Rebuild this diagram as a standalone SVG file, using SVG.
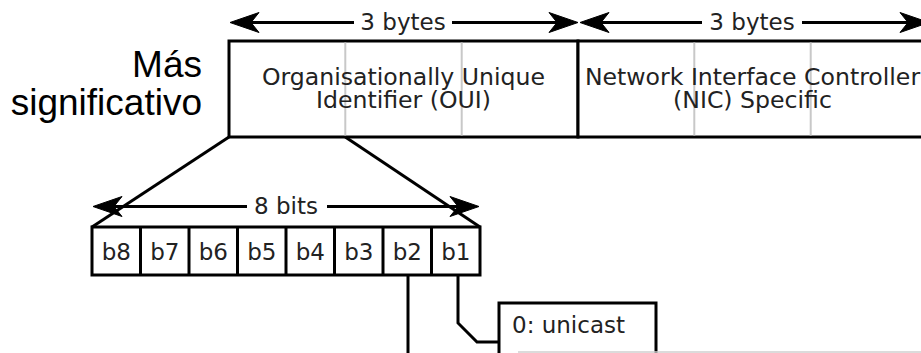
<svg xmlns="http://www.w3.org/2000/svg" width="921" height="353" viewBox="0 0 921 353">
  <defs>
    <style>
      .box { fill: #fff; stroke: #000; stroke-width: 3; }
      .edge { fill: none; stroke: #000; stroke-width: 3; }
      .sub { fill: none; stroke: #c8c8c8; stroke-width: 2; }
      .dim { fill: none; stroke: #000; stroke-width: 3; }
      .lbl { font-family: "DejaVu Sans", "Bitstream Vera Sans", sans-serif; font-size: 23px; fill: #222; text-anchor: middle; }
      .field { font-size: 23.6px; }
      .side { font-family: "Liberation Sans", Arial, sans-serif; font-size: 37px; fill: #000; text-anchor: end; }
    </style>
    <!-- notched arrowhead; refX sits on the notch so the shaft ends inside it -->
    <marker id="head" markerUnits="userSpaceOnUse" markerWidth="34" markerHeight="26"
            viewBox="-2 -13 34 26" refX="8" refY="0" orient="auto-start-reverse">
      <path d="M29,0 L0,-10 L8,0 L0,10 Z" fill="#000" stroke="#000" stroke-width="1" stroke-linejoin="round"/>
    </marker>
  </defs>

  <rect width="921" height="353" fill="#fff"/>

  <!-- side label -->
  <g id="significance">
    <text class="side" x="202" y="77">Más</text>
    <text class="side" x="202" y="115">significativo</text>
  </g>

  <!-- six-byte address -->
  <g id="oui">
    <rect class="box" x="229" y="41" width="349" height="96"/>
    <line class="sub" x1="345.3" y1="42.5" x2="345.3" y2="135.5"/>
    <line class="sub" x1="461.7" y1="42.5" x2="461.7" y2="135.5"/>
    <text class="lbl field" x="403.5" y="85">Organisationally Unique</text>
    <text class="lbl field" x="403.5" y="108">Identifier (OUI)</text>
  </g>
  <g id="nic">
    <rect class="box" x="578" y="41" width="349" height="96"/>
    <line class="sub" x1="694.3" y1="42.5" x2="694.3" y2="135.5"/>
    <line class="sub" x1="810.7" y1="42.5" x2="810.7" y2="135.5"/>
    <text class="lbl field" x="752.5" y="85">Network Interface Controller</text>
    <text class="lbl field" x="752.5" y="108">(NIC) Specific</text>
  </g>

  <!-- dimension arrows -->
  <g id="dimensions">
    <line class="dim" x1="251" y1="22.5" x2="354" y2="22.5" marker-start="url(#head)"/>
    <line class="dim" x1="452" y1="22.5" x2="557" y2="22.5" marker-end="url(#head)"/>
    <text class="lbl" x="403" y="30">3 bytes</text>
    <line class="dim" x1="601" y1="22.5" x2="702" y2="22.5" marker-start="url(#head)"/>
    <line class="dim" x1="802" y1="22.5" x2="908" y2="22.5" marker-end="url(#head)"/>
    <text class="lbl" x="752" y="30">3 bytes</text>
    <line class="dim" x1="114" y1="206.5" x2="247" y2="206.5" marker-start="url(#head)"/>
    <line class="dim" x1="327" y1="206.5" x2="458" y2="206.5" marker-end="url(#head)"/>
    <text class="lbl" x="286" y="214">8 bits</text>
  </g>

  <!-- first byte, bit by bit -->
  <g id="byte-bits">
    <rect class="box" x="92" y="227" width="388" height="48"/>
    <line class="edge" x1="140.5" y1="227" x2="140.5" y2="275"/>
    <line class="edge" x1="189" y1="227" x2="189" y2="275"/>
    <line class="edge" x1="237.5" y1="227" x2="237.5" y2="275"/>
    <line class="edge" x1="286" y1="227" x2="286" y2="275"/>
    <line class="edge" x1="334.5" y1="227" x2="334.5" y2="275"/>
    <line class="edge" x1="383" y1="227" x2="383" y2="275"/>
    <line class="edge" x1="431.5" y1="227" x2="431.5" y2="275"/>
    <text class="lbl" x="116.3" y="260">b8</text>
    <text class="lbl" x="164.8" y="260">b7</text>
    <text class="lbl" x="213.3" y="260">b6</text>
    <text class="lbl" x="261.8" y="260">b5</text>
    <text class="lbl" x="310.3" y="260">b4</text>
    <text class="lbl" x="358.8" y="260">b3</text>
    <text class="lbl" x="407.3" y="260">b2</text>
    <text class="lbl" x="455.8" y="260">b1</text>
  </g>

  <!-- b1 meaning -->
  <g id="unicast">
    <path class="box" d="M499,360 V303 H656 V360"/>
    <text class="lbl" x="512" y="333" style="text-anchor:start">0: unicast</text>
    <line x1="518" y1="352" x2="921" y2="352" stroke="#cfcfcf" stroke-width="1.5"/>
  </g>

  <!-- connectors -->
  <g id="connectors">
    <line class="edge" x1="229" y1="137" x2="92" y2="227"/>
    <line class="edge" x1="345.3" y1="137" x2="480" y2="227"/>
    <line class="edge" x1="408" y1="275" x2="408" y2="360"/>
    <path class="edge" d="M458,275 V323 L477,342 H499"/>
  </g>
</svg>
